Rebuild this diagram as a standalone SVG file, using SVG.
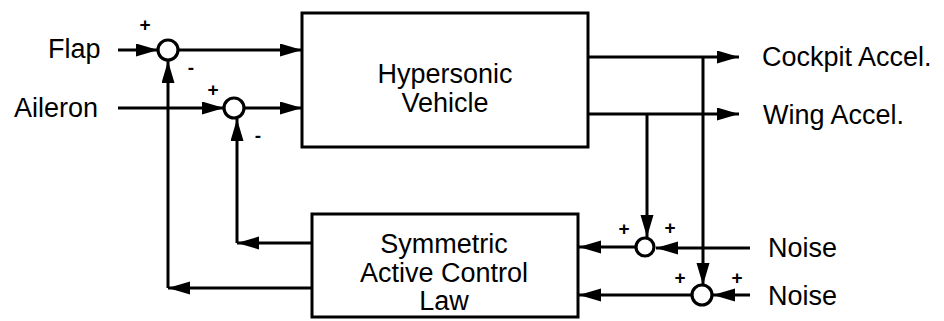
<svg xmlns="http://www.w3.org/2000/svg" width="944" height="321" viewBox="0 0 944 321">
<style>
.box{fill:none;stroke:#000;stroke-width:3}
.sum{fill:#fff;stroke:#000;stroke-width:3.2}
.w{fill:none;stroke:#000;stroke-width:3}
.t{font-family:"Liberation Sans",Arial,sans-serif;font-size:27px;fill:#000}
.s{font-family:"Liberation Sans",Arial,sans-serif;font-size:19px;fill:#000;font-weight:bold}
</style>
<defs>
<marker id="ah" markerUnits="userSpaceOnUse" markerWidth="24" markerHeight="14" refX="22" refY="6.5" orient="auto">
<path d="M0,0 L22,6.5 L0,13 z" fill="#000"/>
</marker>
</defs>
<rect width="944" height="321" fill="#fff"/>
<g id="connectors">
<path class="w" d="M118,50 L158,50" marker-end="url(#ah)"/>
<path class="w" d="M178,50 L302,50" marker-end="url(#ah)"/>
<path class="w" d="M118,108 L224,108" marker-end="url(#ah)"/>
<path class="w" d="M244,108 L302,108" marker-end="url(#ah)"/>
<path class="w" d="M588,57 L739,57" marker-end="url(#ah)"/>
<path class="w" d="M588,114 L739,114" marker-end="url(#ah)"/>
<path class="w" d="M703,57 L703,285" marker-end="url(#ah)"/>
<path class="w" d="M647,114 L647,237" marker-end="url(#ah)"/>
<path class="w" d="M750,248 L656,248" marker-end="url(#ah)"/>
<path class="w" d="M750,295 L713,295" marker-end="url(#ah)"/>
<path class="w" d="M636,247 L579,247" marker-end="url(#ah)"/>
<path class="w" d="M692,295 L579,295" marker-end="url(#ah)"/>
<path class="w" d="M312,243 L237,243" marker-end="url(#ah)"/>
<path class="w" d="M237,243 L237,119" marker-end="url(#ah)"/>
<path class="w" d="M312,288 L168,288" marker-end="url(#ah)"/>
<path class="w" d="M168,288 L168,61" marker-end="url(#ah)"/>
</g>
<g id="flap-label"><text class="t" x="48" y="58">Flap</text></g>
<g id="aileron-label"><text class="t" x="14" y="117">Aileron</text></g>
<g id="sum-flap">
<circle class="sum" cx="168" cy="50" r="10"/>
<text class="s" x="145" y="31" text-anchor="middle">+</text>
<text class="s" x="191" y="74" text-anchor="middle">-</text>
</g>
<g id="sum-aileron">
<circle class="sum" cx="234" cy="108" r="10"/>
<text class="s" x="213" y="96" text-anchor="middle">+</text>
<text class="s" x="258" y="142" text-anchor="middle">-</text>
</g>
<g id="vehicle">
<rect class="box" x="302" y="13" width="286" height="134"/>
<text class="t" x="445" y="83" text-anchor="middle">Hypersonic</text>
<text class="t" x="445" y="112" text-anchor="middle">Vehicle</text>
</g>
<g id="control-law">
<rect class="box" x="312" y="214" width="266" height="103"/>
<text class="t" x="444" y="253" text-anchor="middle">Symmetric</text>
<text class="t" x="444" y="282" text-anchor="middle">Active Control</text>
<text class="t" x="444" y="310" text-anchor="middle">Law</text>
</g>
<g id="cockpit-label"><text class="t" x="762" y="66">Cockpit Accel.</text></g>
<g id="wing-label"><text class="t" x="763" y="124">Wing Accel.</text></g>
<g id="sum-noise1">
<circle class="sum" cx="645" cy="247" r="9"/>
<text class="s" x="624" y="235" text-anchor="middle">+</text>
<text class="s" x="670" y="234" text-anchor="middle">+</text>
</g>
<g id="sum-noise2">
<circle class="sum" cx="702" cy="295" r="10"/>
<text class="s" x="680" y="284" text-anchor="middle">+</text>
<text class="s" x="737" y="284" text-anchor="middle">+</text>
</g>
<g id="noise1-label"><text class="t" x="768" y="257">Noise</text></g>
<g id="noise2-label"><text class="t" x="768" y="305">Noise</text></g>
</svg>
